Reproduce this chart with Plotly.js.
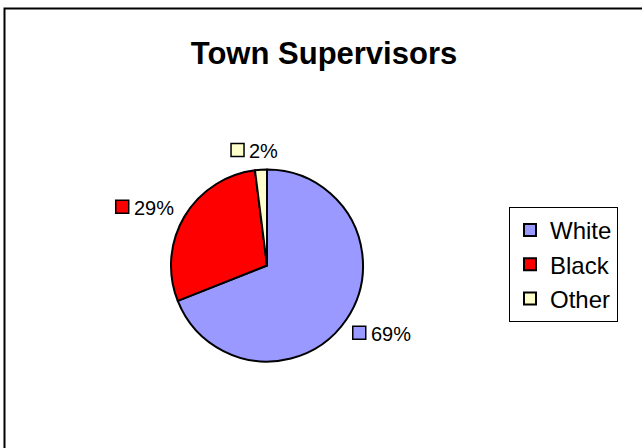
<!DOCTYPE html>
<html>
<head>
<meta charset="utf-8">
<script src="https://cdn.plot.ly/plotly-3.0.1.min.js"></script>
<style>html,body{margin:0;padding:0;background:#fff;}#chart{width:642px;height:448px;}</style>
</head>
<body>
<div id="chart"></div>
<script>
var categories = ["White", "Black", "Other"];
var shares = [69, 29, 2];
var colors = ["#9999FF", "#FF0000", "#FFFFCC"];
var chartTitle = "Town Supervisors";

var W = 642, H = 448;
var cx = 267, cy = 265.5, R = 96;
function px(x) { return x / W; }
function py(y) { return 1 - y / H; }

var FONT = "Liberation Sans, Arial, sans-serif";
var LABEL_SIZE = 20;

var ctx = document.createElement("canvas").getContext("2d");
ctx.font = LABEL_SIZE + "px 'Liberation Sans', Arial, sans-serif";

var trace = {
  type: "pie",
  labels: categories,
  values: shares,
  sort: false,
  direction: "clockwise",
  rotation: 0,
  textinfo: "none",
  hoverinfo: "label+percent",
  marker: { colors: colors, line: { color: "#000000", width: 2 } },
  domain: { x: [px(cx - R), px(cx + R)], y: [py(cy + R), py(cy - R)] }
};

// data labels placed from slice mid-angles
var total = shares.reduce(function (a, b) { return a + b; }, 0);
var annotations = [];
var shapes = [{
  type: "rect", xref: "paper", yref: "paper",
  x0: px(4.5), x1: 1.02, y0: -0.02, y1: py(8.5),
  line: { color: "#000", width: 2 }, fillcolor: "rgba(0,0,0,0)"
}];
var SQ = 13, GAP = 5, GH = 18;
var cum = 0;
for (var i = 0; i < shares.length; i++) {
  var frac = shares[i] / total;
  var mid = (cum + frac / 2) * 2 * Math.PI;
  cum += frac;
  var dx = Math.sin(mid), dy = -Math.cos(mid);
  var r = R * 1.08;
  var lx = cx + dx * r, ly = cy + dy * r;
  var pct = Math.round(frac * 100) + "%";
  var tw = ctx.measureText(pct).width;
  var gw = SQ + GAP + tw;
  var left = Math.abs(dx) < 0.2 ? lx - gw / 2 - 6 : (dx < 0 ? lx - gw - 4 : lx);
  var cyl = dy < 0 ? ly - GH / 2 : ly + GH / 2;
  if (Math.abs(dx) >= 0.2 && dy < 0) cyl += 3;
  if (Math.abs(dx) < 0.2) cyl -= 3;
  shapes.push({
    type: "rect", xref: "paper", yref: "paper",
    x0: px(left), x1: px(left + SQ), y0: py(cyl + SQ / 2), y1: py(cyl - SQ / 2),
    line: { color: "#000", width: 1.5 }, fillcolor: colors[i]
  });
  annotations.push({
    xref: "paper", yref: "paper", x: px(left + SQ + GAP - 1), y: py(cyl + 1),
    xanchor: "left", yanchor: "middle", showarrow: false,
    text: pct,
    font: { family: FONT, size: LABEL_SIZE, color: "#000" },
    borderpad: 0
  });
}

var layout = {
  width: W, height: H,
  margin: { l: 0, r: 0, t: 0, b: 0 },
  paper_bgcolor: "#ffffff",
  title: {
    text: "<b>" + chartTitle + "</b>",
    font: { family: FONT, size: 31, color: "#000" },
    x: px(324), xanchor: "center",
    y: py(53), yanchor: "middle"
  },
  showlegend: true,
  legend: {
    x: px(509), y: py(207), xanchor: "left", yanchor: "top",
    bordercolor: "#000", borderwidth: 1, bgcolor: "#fff",
    font: { family: FONT, size: 24, color: "#000" },
    traceorder: "normal"
  },
  annotations: annotations,
  shapes: shapes
};

Plotly.newPlot("chart", [trace], layout, { displayModeBar: false, staticPlot: true });
</script>
</body>
</html>
